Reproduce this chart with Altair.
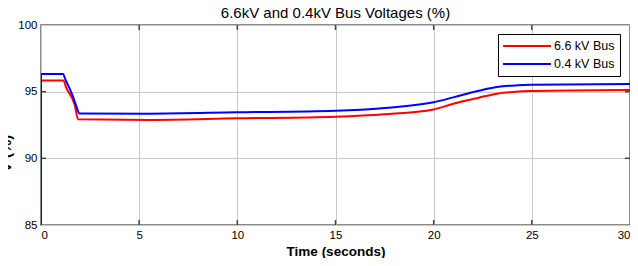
import altair as alt
import pandas as pd

# Series
t_04 = [0, 0, 1.13, 1.22, 1.64, 1.81, 1.95, 5.5, 10, 15, 17.5, 20, 21, 22.3, 23.3, 24, 25, 30]
v_04 = [85, 96.33, 96.33, 96.0, 94.6, 93.87, 93.37, 93.35, 93.45, 93.57, 93.78, 94.2, 94.57, 95.07, 95.37, 95.45, 95.52, 95.57]

t_66 = [0, 1.13, 1.3, 1.72, 1.89, 5.5, 10, 15, 17.5, 20, 21, 22.3, 23.3, 24, 25, 30]
v_66 = [95.83, 95.83, 95.25, 94.0, 92.93, 92.88, 93.0, 93.12, 93.3, 93.67, 94.1, 94.55, 94.87, 94.97, 95.05, 95.12]

series_names = ["6.6 kV Bus", "0.4 kV Bus"]
series_colors = ["#ff0000", "#0000ff"]

x_ticks = [0, 5, 10, 15, 20, 25, 30]
y_ticks = [85, 90, 95, 100]
x_inner = [5, 10, 15, 20, 25]
y_inner = [90, 95]

rows = []
for i, (t, v) in enumerate(zip(t_66, v_66)):
    rows.append({"t": t, "v": v, "s": series_names[0], "i": i})
for i, (t, v) in enumerate(zip(t_04, v_04)):
    rows.append({"t": t, "v": v, "s": series_names[1], "i": i})
df = pd.DataFrame(rows)

xs = alt.Scale(domain=[0, 30], nice=False)
ys = alt.Scale(domain=[85, 100], nice=False, zero=False)

lines = alt.Chart(df).mark_line(strokeWidth=2, interpolate="monotone", clip=True).encode(
    x=alt.X("t:Q", scale=xs,
            axis=alt.Axis(values=x_ticks, title="Time (seconds)", format="d")),
    y=alt.Y("v:Q", scale=ys,
            axis=alt.Axis(values=y_ticks, title="V (%)", format="d", titleX=-28, titleY=128,
                          titleAngle=270, titleAlign="center", titleBaseline="bottom")),
    color=alt.Color("s:N", scale=alt.Scale(domain=series_names, range=series_colors),
                    legend=alt.Legend(title=None, orient="none", legendX=457, legendY=9,
                                      symbolType="M-4,0H4", symbolStrokeWidth=2, symbolSize=144,
                                      labelFontSize=12.5, labelFont="Liberation Sans", labelColor="black",
                                      strokeColor="black", fillColor="white", padding=5,
                                      rowPadding=4, labelOffset=20, symbolOffset=17)),
    order=alt.Order("i:Q"),
)

xdf = pd.DataFrame({"t": x_inner})
ydf = pd.DataFrame({"v": y_inner})
tick_color = "#444444"

xt_bottom = alt.Chart(xdf).mark_rule(color=tick_color, strokeWidth=1.5).encode(
    x=alt.X("t:Q", scale=xs), y=alt.value(200), y2=alt.value(195))
xt_top = alt.Chart(xdf).mark_rule(color=tick_color, strokeWidth=1.5).encode(
    x=alt.X("t:Q", scale=xs), y=alt.value(0), y2=alt.value(5))
yt_left = alt.Chart(ydf).mark_rule(color=tick_color, strokeWidth=1.5).encode(
    y=alt.Y("v:Q", scale=ys), x=alt.value(0), x2=alt.value(5))
yt_right = alt.Chart(ydf).mark_rule(color=tick_color, strokeWidth=1.5).encode(
    y=alt.Y("v:Q", scale=ys), x=alt.value(589), x2=alt.value(584))

chart = alt.layer(xt_bottom, xt_top, yt_left, yt_right, lines).properties(
    width=589, height=200,
    title=alt.Title("6.6kV and 0.4kV Bus Voltages (%)", fontSize=15, fontWeight="normal",
                    font="Liberation Sans", color="black", offset=-2),
    autosize=alt.AutoSizeParams(type="none"),
    padding={"left": 33, "top": 17, "right": 0, "bottom": 33},
).configure_axis(
    labelFont="Liberation Sans", labelFontSize=11.5, labelColor="black",
    titleFont="Liberation Sans", titleColor="black",
    grid=True, gridColor="#c8c8c8", gridWidth=1,
    domain=False, ticks=False,
).configure_axisX(
    labelPadding=4, titleFontSize=13.5, titleFontWeight="bold", titlePadding=4,
).configure_axisY(
    labelPadding=4, titleFontSize=15, titleFontWeight="bold",
).configure_view(
    stroke="#666666", strokeWidth=1.5,
)

chart.save("out.html", embed_options={"renderer": "svg", "actions": False})
